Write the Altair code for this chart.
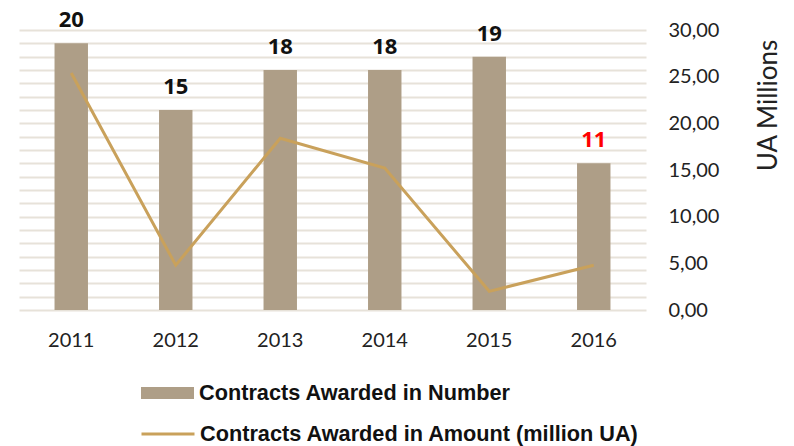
import altair as alt
import pandas as pd

years = ["2011", "2012", "2013", "2014", "2015", "2016"]
counts = [20, 15, 18, 18, 19, 11]
amounts = [25.4, 4.8, 18.4, 15.2, 2.0, 4.8]

bar_name = "Contracts Awarded in Number"
line_name = "Contracts Awarded in Amount (million UA)"

df = pd.DataFrame({"year": years, "count": counts, "amount": amounts,
                   "s1": bar_name, "s2": line_name})

BAR = "#ae9e87"
LINE = "#c9a15b"
FONT = "Lato"

x = alt.X("year:O", title=None,
          scale=alt.Scale(paddingInner=0.68, paddingOuter=0.34),
          axis=alt.Axis(labelAngle=0, labelFontSize=20, labelFont=FONT, labelColor="#222",
                        labelPadding=20, ticks=False, domain=False, grid=False))

legend_common = dict(orient="none", labelFont="Liberation Sans", labelFontSize=21.7,
                     labelFontWeight="bold", labelColor="#111",
                     labelLimit=0, padding=0)

bars = alt.Chart(df).mark_bar(color=BAR).encode(
    x=x,
    y=alt.Y("count:Q", title=None,
            scale=alt.Scale(domain=[0, 21], nice=False),
            axis=alt.Axis(values=list(range(0, 22)), labels=False, ticks=False, domain=False,
                          grid=True, gridColor="#e7e2d9", gridWidth=2)),
    fill=alt.Fill("s1:N", title=None,
                  scale=alt.Scale(domain=[bar_name], range=[BAR]),
                  legend=alt.Legend(legendX=122, legendY=336.5,
                                    symbolType="M-1,-0.23H1V0.23H-1Z", symbolSize=2809,
                                    symbolStrokeWidth=0, symbolOpacity=1, labelOffset=5,
                                    **legend_common)),
)

labels = alt.Chart(df).mark_text(fontSize=22, fontWeight="bold", font="Open Sans",
                                 baseline="alphabetic", dy=-16).encode(
    x=x,
    y=alt.Y("count:Q", scale=alt.Scale(domain=[0, 21], nice=False), axis=None),
    text=alt.Text("count:Q"),
    color=alt.condition(alt.datum.year == "2016", alt.value("#ff0000"), alt.value("#111111")),
)

line = alt.Chart(df).mark_line(strokeWidth=3).encode(
    x=x,
    y=alt.Y("amount:Q", title="UA Millions",
            scale=alt.Scale(domain=[0, 30], nice=False),
            axis=alt.Axis(orient="right", values=[0, 5, 10, 15, 20, 25, 30],
                          labelExpr="replace(format(datum.value, '.2f'), '.', ',')",
                          labelFontSize=20, labelFont=FONT, labelColor="#222",
                          labelPadding=22, ticks=False, domain=False, grid=False,
                          titleFont=FONT, titleFontSize=26, titleFontWeight="normal",
                          titleColor="#222", titleAngle=270, titleX=122, titleY=75,
                          titleAlign="center", titleBaseline="middle")),
    stroke=alt.Stroke("s2:N", title=None,
                      scale=alt.Scale(domain=[line_name], range=[LINE]),
                      legend=alt.Legend(legendX=121, legendY=376,
                                        symbolType="stroke", symbolSize=2809,
                                        symbolStrokeWidth=3, labelOffset=4,
                                        **legend_common)),
)

chart = alt.layer(bars, labels, line).resolve_scale(
    y="independent", fill="independent", stroke="independent"
).properties(
    width=627, height=280,
    autosize=alt.AutoSizeParams(type="none"),
    padding={"left": 11, "top": 22, "right": 140, "bottom": 136},
).configure_view(stroke=None)

chart.save("out.html", embed_options={"renderer": "svg", "actions": False})
